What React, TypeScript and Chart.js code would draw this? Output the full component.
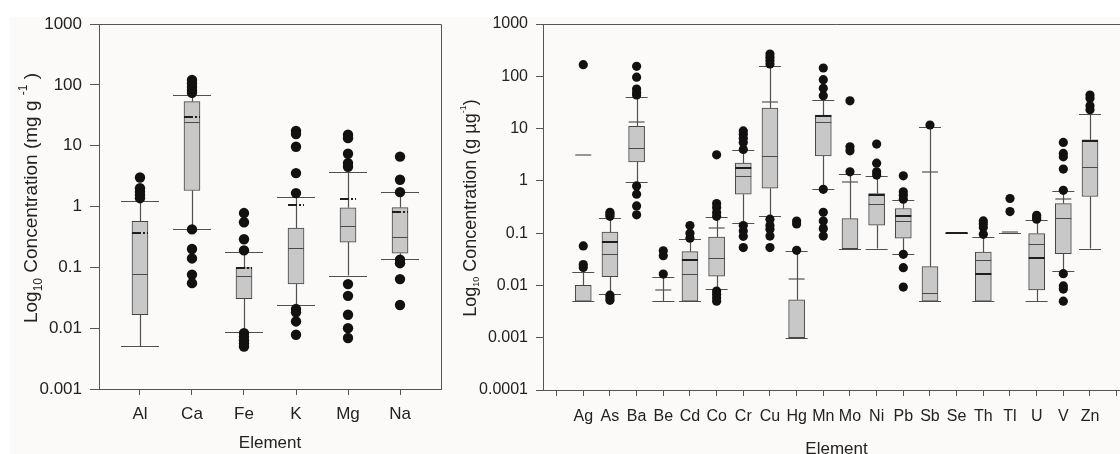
import React, { useEffect, useRef } from 'react';
import { Chart, registerables } from 'chart.js';

Chart.register(...registerables);

const FONT = "'Liberation Sans', Arial, Helvetica, sans-serif";

// ---------------- Left panel (major elements, mg g-1) ----------------
const LEFT_CATS = ['Al', 'Ca', 'Fe', 'K', 'Mg', 'Na'];
const LEFT_Q1 = [0.0166, 1.83, 0.0304, 0.0536, 0.26, 0.171];
const LEFT_Q3 = [0.57, 53, 0.099, 0.44, 0.95, 0.96];
const LEFT_MEDIAN = [0.077, 24.7, 0.0726, 0.207, 0.47, 0.31];
const LEFT_MEAN = [0.37, 29.5, 0.097, 1.07, 1.32, 0.81];
const LEFT_LOW = [0.005, 0.42, 0.0085, 0.0242, 0.0734, 0.136];
const LEFT_HIGH = [1.25, 66.8, 0.182, 1.43, 3.68, 1.7];
const LEFT_OUTLIERS = [
  [3.0, 2.0, 1.75, 1.55, 1.37],
  [120, 105, 92, 82, 74, 0.42, 0.2, 0.14, 0.076, 0.055],
  [0.78, 0.55, 0.29, 0.19, 0.0083, 0.0072, 0.0063, 0.0056, 0.005],
  [17.5, 15.5, 9.6, 3.54, 1.66, 0.0206, 0.0182, 0.0129, 0.0078],
  [15.1, 13.3, 7.35, 5.17, 4.5, 0.053, 0.034, 0.0166, 0.01, 0.0069],
  [6.6, 2.75, 1.72, 0.133, 0.117, 0.064, 0.024],
];
const LEFT_Y_TICKS = [0.001, 0.01, 0.1, 1, 10, 100, 1000];
const LEFT_Y_LABELS = ['0.001', '0.01', '0.1', '1', '10', '100', '1000'];
const LEFT_X_TICKS = [0, 1, 2, 3, 4, 5];
const LEFT_Y_TITLE = [
  { text: 'Log', sub: 0 },
  { text: '10', sub: 1 },
  { text: ' Concentration (mg g ', sub: 0 },
  { text: '-1', sub: -1 },
  { text: ' )', sub: 0 },
];

// ---------------- Right panel (trace elements) ----------------
const RIGHT_CATS = ['Ag', 'As', 'Ba', 'Be', 'Cd', 'Co', 'Cr', 'Cu', 'Hg', 'Mn', 'Mo', 'Ni', 'Pb', 'Sb', 'Se', 'Th', 'Tl', 'U', 'V', 'Zn'];
const RIGHT_Q1 = [0.005, 0.0147, 2.31, null, 0.005, 0.0151, 0.556, 0.724, 0.001, 3.01, 0.0507, 0.142, 0.0798, 0.005, null, 0.005, null, 0.0082, 0.0406, 0.502];
const RIGHT_Q3 = [0.01, 0.105, 11.0, null, 0.0444, 0.0845, 2.18, 24.7, 0.0053, 18.1, 0.19, 0.573, 0.296, 0.0229, null, 0.0436, null, 0.098, 0.368, 6.1];
const RIGHT_MEDIAN = [0.005, 0.0394, 4.23, 0.005, 0.0168, 0.034, 1.25, 2.93, 0.001, 13.5, 0.0507, 0.368, 0.167, 0.0071, 0.1, 0.0303, 0.1, 0.0632, 0.193, 1.81];
const RIGHT_MEAN = [3.15, 0.069, 13.1, 0.0082, 0.0307, 0.124, 1.73, 31.8, 0.013, 17.1, 0.97, 0.54, 0.214, 1.45, 0.1, 0.0168, 0.105, 0.034, 0.446, 5.8];
const RIGHT_LOW = [0.005, 0.0068, 0.957, 0.005, 0.005, 0.0084, 0.155, 0.214, 0.001, 0.693, 0.0507, 0.0507, 0.0394, 0.005, 0.1, 0.005, 0.1, 0.005, 0.0189, 0.0507];
const RIGHT_HIGH = [0.0184, 0.199, 39.6, 0.0145, 0.0787, 0.208, 3.87, 160, 0.0456, 35.1, 1.34, 1.25, 0.432, 10.5, 0.1, 0.0845, 0.1, 0.177, 0.643, 19];
const RIGHT_OUTLIERS = [
  [167, 0.057, 0.025, 0.022],
  [0.25, 0.23, 0.21, 0.0065, 0.0058, 0.0052],
  [155, 96, 57, 49, 44, 0.8, 0.556, 0.332, 0.224],
  [0.046, 0.037, 0.0165],
  [0.14, 0.1, 0.08],
  [3.15, 0.368, 0.31, 0.248, 0.21, 0.0078, 0.0068, 0.0058, 0.005],
  [9.0, 7.8, 6.5, 5.4, 4.0, 0.14, 0.11, 0.087, 0.053],
  [267, 231, 200, 172, 0.185, 0.14, 0.119, 0.088, 0.053],
  [0.17, 0.15, 0.047],
  [144, 86, 59, 42.5, 0.69, 0.25, 0.17, 0.122, 0.088],
  [34, 4.48, 3.76, 1.49],
  [5.05, 2.18, 1.49, 1.29],
  [1.25, 0.616, 0.53, 0.445, 0.0394, 0.0219, 0.0093],
  [11.7],
  [],
  [0.171, 0.15, 0.128, 0.095],
  [0.46, 0.259],
  [0.22, 0.2, 0.185],
  [5.44, 3.35, 2.88, 1.68, 0.66, 0.0168, 0.0098, 0.0085, 0.005],
  [43.8, 37.9, 27.3, 22.9],
];
const RIGHT_Y_TICKS = [0.0001, 0.001, 0.01, 0.1, 1, 10, 100, 1000];
const RIGHT_Y_LABELS = ['0.0001', '0.001', '0.01', '0.1', '1', '10', '100', '1000'];
const RIGHT_X_TICKS = [-1, 0, 1, 2, 3, 4, 5, 6, 7, 8, 9, 10, 11, 12, 13, 14, 15, 16, 17, 18, 19, 20];
const RIGHT_Y_TITLE = [
  { text: 'Log', sub: 0 },
  { text: '10', sub: 1 },
  { text: ' Concentration (g µg', sub: 0 },
  { text: '-1', sub: -1 },
  { text: ')', sub: 0 },
];
const X_TITLE = 'Element';

type Seg = { text: string; sub: number };
type Panel = {
  cats: string[];
  q1: (number | null)[];
  q3: (number | null)[];
  median: number[];
  mean: number[];
  low: number[];
  high: number[];
  outliers: number[][];
  yTicks: number[];
  yLabels: string[];
  xTicks: number[];
  yTitle: Seg[];
};
type Look = {
  xMin: number;
  xMax: number;
  yMin: number;
  yMax: number;
  boxW: number;
  capW: number;
  pointR: number;
  yTickLen: number;
  yAxisW: number;
  xAxisH: number;
  padRight: number;
  tickFont: number;
  xTickFont: number;
  xPad: number;
  titleFont: number;
  scriptFont: number;
  titleDX: number;
  titleCY: number;
  xTitleY: number;
  dashedMean: boolean;
};

function drawRich(ctx: CanvasRenderingContext2D, segs: Seg[], cx: number, cy: number, main: number, small: number) {
  ctx.save();
  ctx.translate(cx, cy);
  ctx.rotate(-Math.PI / 2);
  ctx.textAlign = 'left';
  ctx.textBaseline = 'middle';
  ctx.fillStyle = '#222';
  const sizeOf = (s: Seg) => (s.sub === 0 ? main : small);
  let total = 0;
  for (const s of segs) {
    ctx.font = `${sizeOf(s)}px ${FONT}`;
    total += ctx.measureText(s.text).width;
  }
  let x = -total / 2;
  for (const s of segs) {
    ctx.font = `${sizeOf(s)}px ${FONT}`;
    const dy = s.sub === 1 ? main * 0.33 : s.sub === -1 ? -main * 0.42 : 0;
    ctx.fillText(s.text, x, dy);
    x += ctx.measureText(s.text).width;
  }
  ctx.restore();
}

function makeChart(canvas: HTMLCanvasElement, p: Panel, L: Look) {
  const boxData = p.cats
    .map((_, i) => (p.q1[i] != null && p.q3[i] != null ? { x: i, y: [p.q1[i] as number, p.q3[i] as number] } : null))
    .filter((d) => d !== null);
  const outData = p.outliers.flatMap((arr, i) => arr.map((v) => ({ x: i, y: v })));

  const hline = (ctx: CanvasRenderingContext2D, x: number, y: number, w: number) => {
    const yy = Math.round(y) + 0.5;
    ctx.beginPath();
    ctx.moveTo(x - w / 2, yy);
    ctx.lineTo(x + w / 2, yy);
    ctx.stroke();
  };

  const drawer = {
    id: 'boxDrawer',
    beforeDatasetsDraw(chart: any) {
      const ctx = chart.ctx as CanvasRenderingContext2D;
      const xs = chart.scales.x;
      const ys = chart.scales.y;
      ctx.save();
      ctx.strokeStyle = '#505050';
      ctx.lineWidth = 1.2;
      p.cats.forEach((_, i) => {
        const x = Math.round(xs.getPixelForValue(i)) + 0.5;
        const bottom = p.q1[i] ?? p.median[i];
        const top = p.q3[i] ?? p.median[i];
        ctx.beginPath();
        ctx.moveTo(x, ys.getPixelForValue(p.low[i]));
        ctx.lineTo(x, ys.getPixelForValue(bottom as number));
        ctx.moveTo(x, ys.getPixelForValue(top as number));
        ctx.lineTo(x, ys.getPixelForValue(p.high[i]));
        ctx.stroke();
      });
      ctx.lineWidth = 1;
      ctx.strokeStyle = '#505050';
      p.cats.forEach((_, i) => {
        const x = xs.getPixelForValue(i);
        hline(ctx, x, ys.getPixelForValue(p.low[i]), L.capW);
        hline(ctx, x, ys.getPixelForValue(p.high[i]), L.capW);
      });
      ctx.restore();
    },
    afterDatasetDraw(chart: any, args: any) {
      if (args.meta.type !== 'bar') return;
      const ctx = chart.ctx as CanvasRenderingContext2D;
      const xs = chart.scales.x;
      const ys = chart.scales.y;
      ctx.save();
      p.cats.forEach((_, i) => {
        const x = xs.getPixelForValue(i);
        ctx.setLineDash([]);
        ctx.strokeStyle = '#4a4a4a';
        ctx.lineWidth = 1;
        hline(ctx, x, ys.getPixelForValue(p.median[i]), L.boxW);
        const m = p.mean[i];
        const lo = (p.q1[i] ?? p.median[i]) as number;
        const hi = (p.q3[i] ?? p.median[i]) as number;
        const inBox = m >= lo && m <= hi * 1.02;
        if (L.dashedMean) {
          ctx.setLineDash([9, 2, 2, 2]);
          ctx.strokeStyle = '#1e1e1e';
          ctx.lineWidth = 2;
        } else if (inBox) {
          ctx.strokeStyle = '#1e1e1e';
          ctx.lineWidth = 2;
        } else {
          ctx.strokeStyle = '#555';
          ctx.lineWidth = 1.2;
        }
        const w = !L.dashedMean && p.q1[i] == null && inBox ? L.capW : L.boxW;
        const y = ys.getPixelForValue(m);
        ctx.beginPath();
        ctx.moveTo(x - w / 2, Math.round(y));
        ctx.lineTo(x + w / 2, Math.round(y));
        ctx.stroke();
      });
      ctx.restore();
    },
    afterDraw(chart: any) {
      const ctx = chart.ctx as CanvasRenderingContext2D;
      const a = chart.chartArea;
      ctx.save();
      ctx.strokeStyle = '#555';
      ctx.lineWidth = 1;
      ctx.beginPath();
      ctx.moveTo(Math.round(a.left), Math.round(a.top) + 0.5);
      ctx.lineTo(Math.round(a.right) + 0.5, Math.round(a.top) + 0.5);
      ctx.lineTo(Math.round(a.right) + 0.5, Math.round(a.bottom));
      ctx.stroke();
      ctx.fillStyle = '#222';
      ctx.font = `17px ${FONT}`;
      ctx.textAlign = 'center';
      ctx.textBaseline = 'alphabetic';
      ctx.fillText(X_TITLE, (a.left + a.right) / 2, L.xTitleY);
      ctx.restore();
      drawRich(ctx, p.yTitle, a.left + L.titleDX, L.titleCY, L.titleFont, L.scriptFont);
    },
  };

  return new Chart(canvas, {
    type: 'bar',
    data: {
      datasets: [
        {
          type: 'scatter',
          data: outData,
          pointRadius: L.pointR,
          pointHoverRadius: L.pointR,
          pointBackgroundColor: '#111',
          pointBorderWidth: 0,
          showLine: false,
        } as any,
        {
          type: 'bar',
          data: boxData as any,
          backgroundColor: '#c8c8c8',
          borderColor: '#454545',
          borderWidth: 1,
          borderSkipped: false,
          barThickness: L.boxW,
        } as any,
      ],
    },
    options: {
      responsive: false,
      animation: false,
      devicePixelRatio: 1,
      events: [],
      layout: { padding: { left: 0, right: L.padRight, top: 24, bottom: 0 } },
      plugins: { legend: { display: false }, tooltip: { enabled: false } },
      scales: {
        x: {
          type: 'linear',
          min: L.xMin,
          max: L.xMax,
          offset: false,
          afterFit: (s: any) => {
            s.height = L.xAxisH;
          },
          afterBuildTicks: (s: any) => {
            s.ticks = p.xTicks.map((v) => ({ value: v }));
          },
          ticks: {
            autoSkip: false,
            maxRotation: 0,
            minRotation: 0,
            padding: L.xPad,
            color: '#222',
            font: { family: FONT, size: L.xTickFont },
            callback: (v: any) => p.cats[v as number] ?? '',
          },
          grid: { drawOnChartArea: false, drawTicks: true, tickLength: 6, color: '#555', offset: false },
          border: { display: true, color: '#555', width: 1 },
        } as any,
        y: {
          type: 'logarithmic',
          min: L.yMin,
          max: L.yMax,
          afterFit: (s: any) => {
            s.width = L.yAxisW;
          },
          afterBuildTicks: (s: any) => {
            s.ticks = p.yTicks.map((v) => ({ value: v }));
          },
          ticks: {
            autoSkip: false,
            padding: 8,
            color: '#222',
            font: { family: FONT, size: L.tickFont },
            callback: (_v: any, idx: number) => p.yLabels[idx],
          },
          grid: { drawOnChartArea: false, drawTicks: true, tickLength: L.yTickLen, color: '#555' },
          border: { display: true, color: '#555', width: 1 },
        } as any,
      },
    },
    plugins: [drawer],
  });
}

export default function App() {
  const leftRef = useRef<HTMLCanvasElement | null>(null);
  const rightRef = useRef<HTMLCanvasElement | null>(null);

  useEffect(() => {
    const left = makeChart(
      leftRef.current as HTMLCanvasElement,
      {
        cats: LEFT_CATS, q1: LEFT_Q1, q3: LEFT_Q3, median: LEFT_MEDIAN, mean: LEFT_MEAN,
        low: LEFT_LOW, high: LEFT_HIGH, outliers: LEFT_OUTLIERS,
        yTicks: LEFT_Y_TICKS, yLabels: LEFT_Y_LABELS, xTicks: LEFT_X_TICKS, yTitle: LEFT_Y_TITLE,
      },
      {
        xMin: -0.788, xMax: 5.788, yMin: 0.001, yMax: 1000,
        boxW: 16, capW: 38, pointR: 5.2, yTickLen: 9, yAxisW: 99, xAxisH: 65, padRight: 19,
        tickFont: 17, xTickFont: 17, xPad: 9, titleFont: 19, scriptFont: 12,
        titleDX: -67, titleCY: 198, xTitleY: 448, dashedMean: true,
      }
    );
    const right = makeChart(
      rightRef.current as HTMLCanvasElement,
      {
        cats: RIGHT_CATS, q1: RIGHT_Q1, q3: RIGHT_Q3, median: RIGHT_MEDIAN, mean: RIGHT_MEAN,
        low: RIGHT_LOW, high: RIGHT_HIGH, outliers: RIGHT_OUTLIERS,
        yTicks: RIGHT_Y_TICKS, yLabels: RIGHT_Y_LABELS, xTicks: RIGHT_X_TICKS, yTitle: RIGHT_Y_TITLE,
      },
      {
        xMin: -1.51, xMax: 20.5, yMin: 0.0001, yMax: 1000,
        boxW: 16, capW: 22, pointR: 4.6, yTickLen: 7, yAxisW: 83, xAxisH: 64, padRight: 10,
        tickFont: 16, xTickFont: 16, xPad: 11, titleFont: 18, scriptFont: 9,
        titleDX: -72, titleCY: 208, xTitleY: 454, dashedMean: false,
      }
    );
    return () => {
      left.destroy();
      right.destroy();
    };
  }, []);

  return (
    <div style={{ position: 'fixed', left: 0, top: 0, width: 1120, height: 454, overflow: 'hidden', background: '#ffffff' }}>
      <div style={{ position: 'absolute', left: 10, top: 17, right: 0, bottom: 0, background: '#fcfaf9' }} />
      <canvas ref={leftRef} width={460} height={454} style={{ position: 'absolute', left: 0, top: 0 }} />
      <canvas ref={rightRef} width={680} height={454} style={{ position: 'absolute', left: 460, top: 0 }} />
    </div>
  );
}
